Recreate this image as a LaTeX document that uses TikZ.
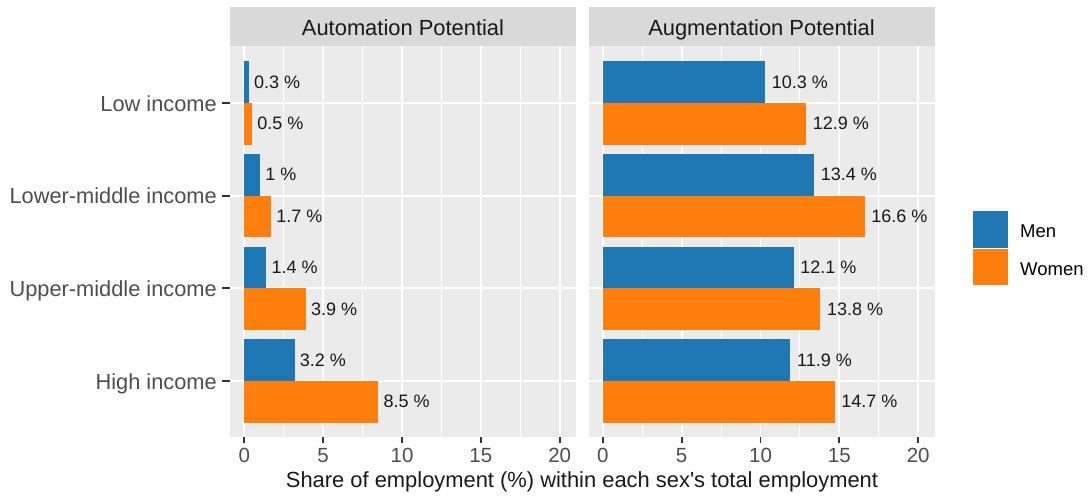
\documentclass[tikz,border=0pt]{standalone}
\usepackage{fontspec}
\setmainfont{Liberation Sans}
\usetikzlibrary{positioning}

\definecolor{panelgrey}{HTML}{EBEBEB}
\definecolor{stripgrey}{HTML}{D9D9D9}
\definecolor{axisgrey}{HTML}{4D4D4D}
\definecolor{tickgrey}{HTML}{333333}
\definecolor{menblue}{HTML}{1F77B4}
\definecolor{womenorange}{HTML}{FF7F0E}

\begin{document}
\begin{tikzpicture}[x=1pt, y=-1pt,
  men/.style={fill=menblue},
  women/.style={fill=womenorange},
  majorgrid/.style={white, line width=1.8pt},
  minorgrid/.style={white, line width=0.9pt},
  axistick/.style={tickgrey, line width=1.8pt},
  catlabel/.style={anchor=base east, inner sep=0pt, text=axisgrey, font=\fontsize{21.8}{24}\selectfont},
  ticklabel/.style={anchor=base, inner sep=0pt, text=axisgrey, font=\fontsize{20.5}{24}\selectfont},
  striplabel/.style={anchor=base, inner sep=0pt, text=black!90, font=\fontsize{21.9}{24}\selectfont},
  vallabel/.style={anchor=base west, inner sep=0pt, text=black!90, font=\fontsize{18}{20}\selectfont},
  keybox/.style={draw=white, line width=0.8pt, minimum width=36pt, minimum height=37.5pt, inner sep=0pt},
  keylabel/.style={anchor=base west, inner sep=0pt, font=\fontsize{18.5}{20}\selectfont}
]
\useasboundingbox (0,0) rectangle (1092,497);

% panels, strips and grid
\foreach \px/\title/\pname in {230/Automation Potential/auto, 588.5/Augmentation Potential/aug} {
  \fill[stripgrey] (\px,7) rectangle ++(346,39);
  \node[striplabel] (strip-\pname) at (\px+173,36) {\title};
  \fill[panelgrey] (\px,46) rectangle ++(346,391);
  \foreach \v in {2.5,7.5,12.5,17.5}
    \draw[minorgrid] ({\px+14.3+15.77*\v},46) -- ++(0,391);
  \foreach \v in {0,5,...,20} {
    \draw[majorgrid] ({\px+14.3+15.77*\v},46) -- ++(0,391);
    \draw[axistick] ({\px+14.3+15.77*\v},437) -- ++(0,5.5);
    \node[ticklabel] (tick-\pname-\v) at ({\px+14.3+15.77*\v},462.7) {\v};
  }
  \foreach \y in {103,195.7,288.3,381}
    \draw[majorgrid] (\px,\y) -- ++(346,0);
}

% bars and values
\foreach \y/\am/\aw/\gm/\gw [count=\i] in {103/0.3/0.5/10.3/12.9, 195.7/1/1.7/13.4/16.6, 288.3/1.4/3.9/12.1/13.8, 381/3.2/8.5/11.9/14.7} {
  \fill[men] (244.3,\y-41.7) rectangle ({244.3+15.77*\am},\y);
  \fill[women] (244.3,\y) rectangle ({244.3+15.77*\aw},\y+41.7);
  \fill[men] (602.8,\y-41.7) rectangle ({602.8+15.77*\gm},\y);
  \fill[women] (602.8,\y) rectangle ({602.8+15.77*\gw},\y+41.7);
  \node[vallabel] (auto-men-\i) at ({249.3+15.77*\am},\y-14.85) {\am~\%};
  \node[vallabel] (auto-women-\i) at ({249.3+15.77*\aw},\y+26.85) {\aw~\%};
  \node[vallabel] (aug-men-\i) at ({609.3+15.77*\gm},\y-14.85) {\gm~\%};
  \node[vallabel] (aug-women-\i) at ({609.3+15.77*\gw},\y+26.85) {\gw~\%};
}

% y axis
\foreach \y/\cat [count=\i] in {103/Low income, 195.7/Lower-middle income, 288.3/Upper-middle income, 381/High income} {
  \draw[axistick] (222,\y) -- (230,\y);
  \node[catlabel] (cat-\i) at (217,\y+8.3) {\cat};
}

\node[anchor=base, inner sep=0pt, text=black!90, font=\fontsize{21.9}{24}\selectfont] (xtitle) at (582,487.7)
  {Share of employment (\%) within each sex\textquotesingle s total employment};

% legend
\node[keybox, men] (key-men) at (990,229.5) {};
\node[keybox, women] (key-women) at (990,267) {};
\node[keylabel] (lbl-men) at (1020,237.7) {Men};
\node[keylabel] (lbl-women) at (1020,275.7) {Women};
\end{tikzpicture}
\end{document}
